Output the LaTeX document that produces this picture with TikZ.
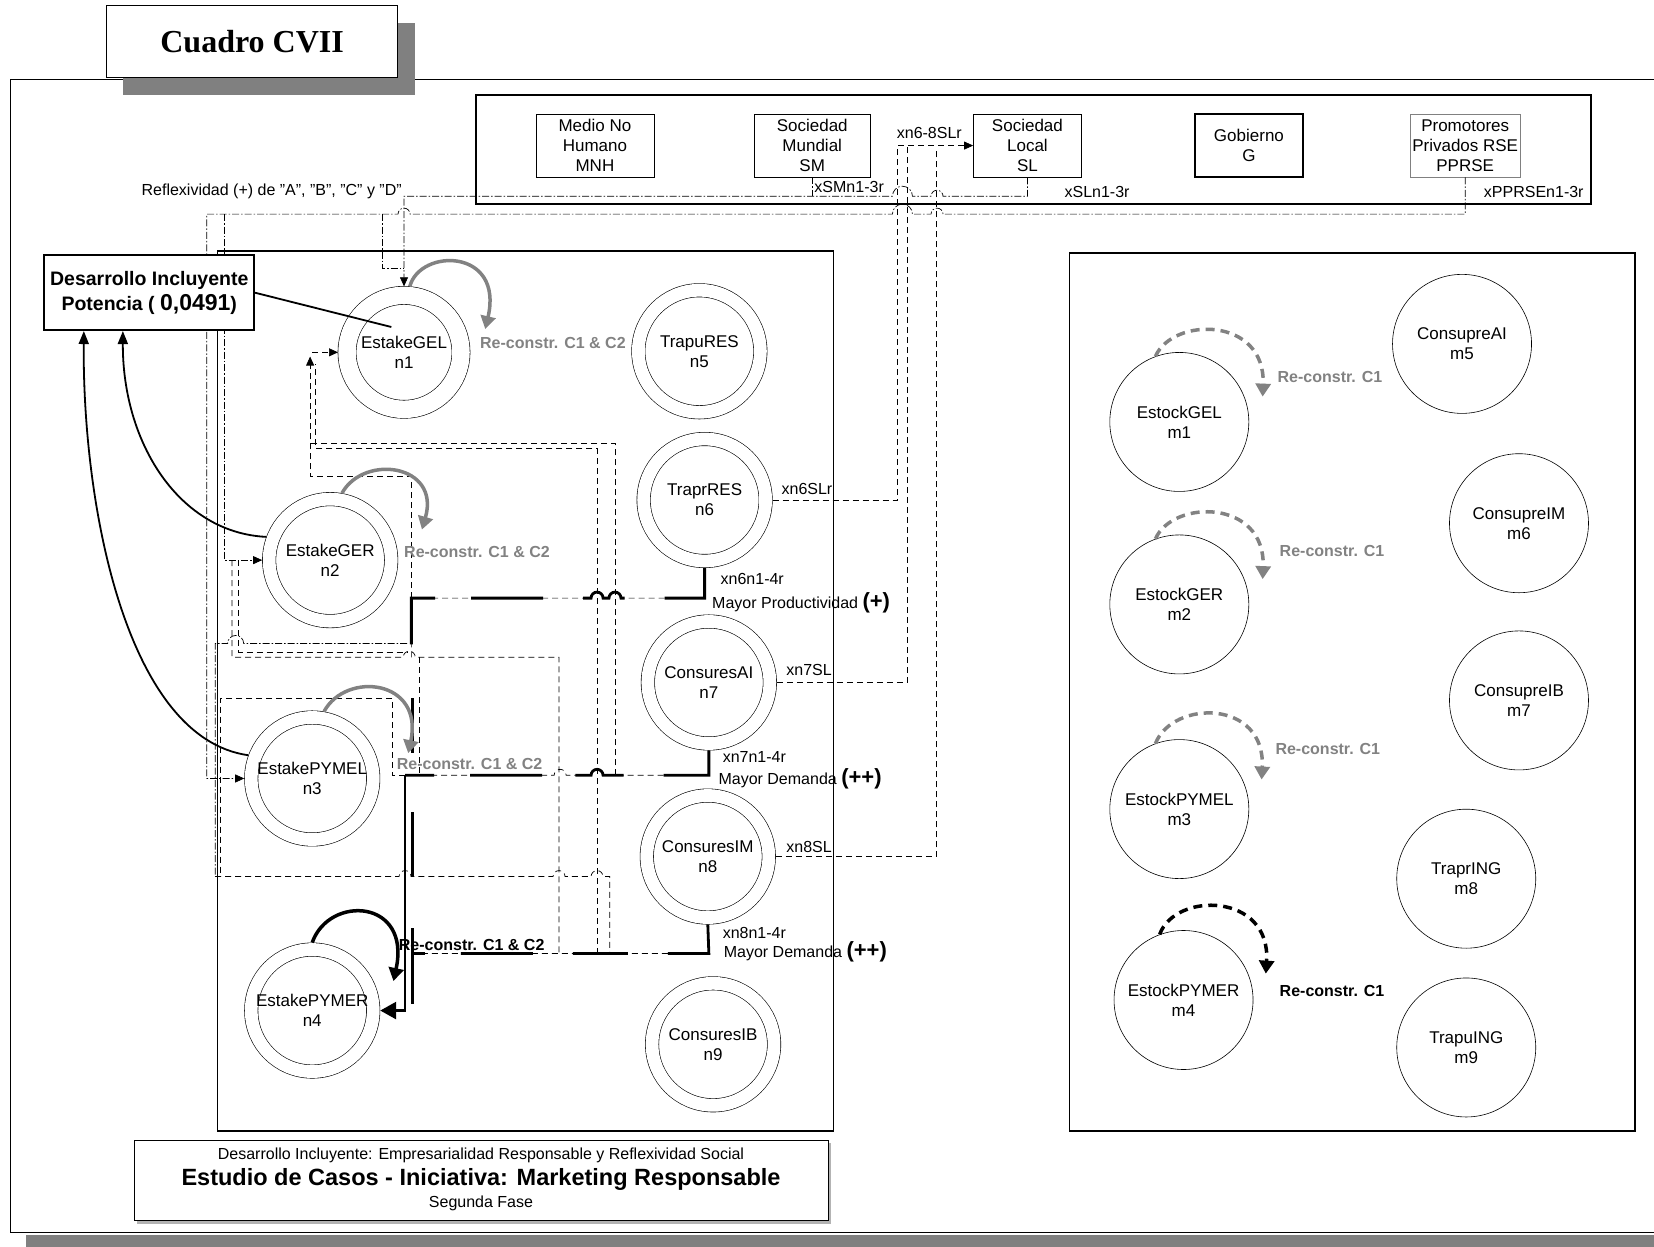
\documentclass[tikz,border=0pt]{standalone}
\usepackage{fontspec}
\setmainfont{Liberation Sans}
\newfontfamily\cuadrofont{Liberation Serif}
\usetikzlibrary{calc, arrows.meta}

\definecolor{shadowgray}{RGB}{128,128,128}
\definecolor{loopgray}{RGB}{130,130,130}

\tikzset{
  txt/.style={font=\fontsize{17}{20}\selectfont, inner sep=0pt, align=center},
  stake/.style={txt, draw, circle, double, double distance=12.8pt, line width=0.6pt, minimum size=122pt, outer sep=7pt},
  stock/.style={txt, draw, circle, line width=0.6pt, minimum size=139pt},
  agent/.style={txt, draw, line width=0.6pt, minimum height=63pt},
  reflex/.style={line width=0.7pt, dash pattern=on 7pt off 2pt on 1.5pt off 2pt},
  net/.style={line width=0.7pt, dash pattern=on 6pt off 4pt},
  feed/.style={net, postaction={draw, line width=2.8pt, dash pattern=on 70pt off 40pt on 55pt off 40pt on 72pt off 36pt}},
  headtip/.style={-{Triangle[length=9pt,width=8pt]}},
  reloop/.style={line width=3.5pt, loopgray, -{Triangle[length=13pt,width=15pt]}},
  mloop/.style={reloop, dash pattern=on 9pt off 6pt},
  relbl/.style={font=\bfseries\fontsize{16}{19}\selectfont, text=loopgray, anchor=west, inner sep=0pt},
  lbl/.style={font=\fontsize{16}{19}\selectfont, inner sep=0pt},
  devbox/.style={draw, fill=white, line width=1.6pt, minimum width=210pt, minimum height=75pt, align=center, inner sep=0pt, font=\bfseries\fontsize{19.5}{25}\selectfont},
  devarrow/.style={line width=1.8pt, -{Triangle[length=13pt,width=10pt]}}
}

\begin{document}
\begin{tikzpicture}[x=1.0548pt, y=-1.0548pt]
    \useasboundingbox (0,0) rectangle (1568,1182);
    \clip (0,0) rectangle (1568,1182);

    % Outer frame with its shadow
    \fill[shadowgray] (25,1171) rectangle (1600,1200);
    \draw[line width=1pt] (1600,75) -- (10,75) -- (10,1168) -- (1600,1168);

    % Title box
    \fill[shadowgray] (117,22) rectangle (393,90);
    \node[draw, fill=white, line width=1.2pt, minimum width=291pt, minimum height=72pt,
          font=\cuadrofont\bfseries\fontsize{32}{36}\selectfont] (cuadro) at (239,39) {Cuadro CVII};

    % Frames of the three groups
    \draw[line width=2pt] (451,90) rectangle (1508,193);
    \draw[line width=1.4pt] (206,238) rectangle (790,1072);
    \draw[line width=1.4pt] (1014,240) rectangle (1550,1072);

    % Agents
    \node[agent, minimum width=118pt] (MNH) at (564,138) {Medio No\\Humano\\MNH};
    \node[agent, minimum width=116pt] (SM) at (770,138) {Sociedad\\Mundial\\SM};
    \node[agent, minimum width=108pt] (SL) at (974,138) {Sociedad\\Local\\SL};
    \node[agent, minimum width=108pt, line width=2.6pt] (G) at (1184,138) {Gobierno\\G};
    \node[agent, minimum width=110pt, draw=gray] (PPRSE) at (1389,138) {Promotores\\Privados RSE\\PPRSE};

    % Stakeholders (double circles)
    \node[stake, minimum size=114pt, double distance=17.5pt, outer sep=9pt] (n1) at (383,334) {EstakeGEL\\n1};
    \foreach \nm/\px/\py/\lab in {n2/313/531/EstakeGER, n3/296/738/EstakePYMEL, n4/296/958/EstakePYMER,
        n5/663/333/TrapuRES, n6/668/474/TraprRES, n7/672/647/ConsuresAI, n8/671/812/ConsuresIM, n9/676/990/ConsuresIB}
        \node[stake] (\nm) at (\px,\py) {\lab\\\nm};

    % Stocks (single circles)
    \foreach \nm/\px/\py/\lab in {m1/1118/400/EstockGEL, m2/1118/573/EstockGER, m3/1118/767/EstockPYMEL,
        m4/1122/948/EstockPYMER, m5/1386/326/ConsupreAI, m6/1440/496/ConsupreIM, m7/1440/664/ConsupreIB,
        m8/1390/833/TraprING, m9/1390/993/TrapuING}
        \node[stock] (\nm) at (\px,\py) {\lab\\\nm};

    % Reflexivity lines (dash-dot)
    \draw[reflex] (SM.south) -- ++(0,18);
    \draw[reflex, headtip] (SL.south) |- (894,186) arc[start angle=0, end angle=180, radius=6pt]
        -- (865,186) arc[start angle=0, end angle=180, radius=10pt] -- (383,186) -- (n1.north);
    \draw[reflex, headtip] (PPRSE.south) |- (894,203) arc[start angle=0, end angle=180, radius=6pt]
        -- (865,203) arc[start angle=0, end angle=180, radius=10pt]
        -- (388.7,203) arc[start angle=0, end angle=180, radius=6pt] -- (196,203) -- (196,738) -- (n3.west);
    \draw[reflex, headtip] (213,203) -- (213,531) -- (n2.west);
    \draw[reflex] (362,203) -- (362,254) -- (383,254);
    \draw[reflex] (386,610) -- (231,610) arc[start angle=0, end angle=180, radius=8pt] -- (204,610) -- (204,831);

    % Links to Sociedad Local
    \draw[net, headtip] (n6.east) -| (851,138) -- (SL.west);
    \draw[net] (n7.east) -| (860,138);
    \draw[net] (n8.east) -| (888,142);

    % Feedback network (dashed)
    \draw[net, headtip] (390,567) -- (390,452) -- (294,452) -- (294,338);
    \draw[net, headtip] (296,334) -- (n1.west);
    \draw[net] (583,735) -- (583,420) -- (294,420);
    \draw[net] (566,904) -- (566,425) -- (299,425) -- (299,345);
    \draw[net] (220,531) -- (220,623) -- (382.3,623) arc[start angle=180, end angle=0, radius=6pt]
        -- (530,623) -- (530,904);
    \draw[net] (398,623) -- (398,735);
    \draw[net] (226,531) -- (226,618) -- (386,618);
    \draw[net] (204,831) -- (378.3,831) arc[start angle=180, end angle=0, radius=6pt]
        -- (524.3,831) arc[start angle=180, end angle=0, radius=6pt]
        -- (560.3,831) arc[start angle=180, end angle=0, radius=6pt] -- (578,831) -- (578,904);
    \draw[net] (384,735) -- (372,735) -- (372,662) -- (209,662) -- (209,831);

    % Productivity and demand lines
    \draw[feed] (n6.south) -- (668,567) -- (588.7,567) arc[start angle=0, end angle=180, radius=6pt]
        -- (571.7,567) arc[start angle=0, end angle=180, radius=6pt] -- (390,567) -- (390,626);
    \draw[feed] (n7.south) -- (672,735) -- (571.7,735) arc[start angle=0, end angle=180, radius=6pt]
        -- (536.7,735) arc[start angle=0, end angle=180, radius=6pt] -- (384,735);
    \draw[feed] (n8.south) -- (672,904) -- (390,904);
    \draw[line width=2.8pt, -{Triangle[length=16pt,width=17pt]}] (384,735) -- (384,958) -- (n4.east);
    \draw[line width=2.8pt] (391,662) -- (391,714) (391,770) -- (391,830) (391,880) -- (391,952);

    % Re-construction loops
    \draw[reloop] (n1.85) .. controls (398,235) and (478,235) .. (460,312);
    \draw[reloop] (n2.80) .. controls (345,430) and (418,440) .. (400,502);
    \draw[reloop] (n3.80) .. controls (328,636) and (402,644) .. (387,714);
    \draw[reloop, black] (n4.90) .. controls (312,848) and (390,852) .. (373,930);
    \draw[mloop] (m1.110) .. controls (1112,300) and (1200,300) .. (1197,376);
    \draw[mloop] (m2.110) .. controls (1112,473) and (1200,473) .. (1197,549);
    \draw[mloop] (m3.110) .. controls (1112,663) and (1200,663) .. (1196,739);
    \draw[mloop, black] (m4.110) .. controls (1114,845) and (1205,846) .. (1200,923);

    \node[relbl] (r1) at (455,325) {Re-constr. C1 \& C2};
    \node[relbl] (r2) at (383,523) {Re-constr. C1 \& C2};
    \node[relbl] (r3) at (376,724) {Re-constr. C1 \& C2};
    \node[relbl, text=black] (r4) at (378,896) {Re-constr. C1 \& C2};
    \node[relbl] (q1) at (1211,357) {Re-constr. C1};
    \node[relbl] (q2) at (1213,522) {Re-constr. C1};
    \node[relbl] (q3) at (1209,710) {Re-constr. C1};
    \node[relbl, text=black] (q4) at (1213,939) {Re-constr. C1};

    % Line labels
    \node[lbl, anchor=east] (refl) at (381,181) {Reflexividad (+) de "A", "B", "C" y "D"};
    \node[lbl] (xsm) at (805,177) {xSMn1-3r};
    \node[lbl] (xsl) at (1040,182) {xSLn1-3r};
    \node[lbl] (xpp) at (1454,182) {xPPRSEn1-3r};
    \node[lbl] (x68) at (881,126) {xn6-8SLr};
    \node[lbl] (x6sl) at (765,464) {xn6SLr};
    \node[lbl] (x7sl) at (767,635) {xn7SL};
    \node[lbl] (x8sl) at (767,803) {xn8SL};
    \node[lbl, anchor=west] (x6r) at (683,549) {xn6n1-4r};
    \node[lbl, anchor=west] (mp) at (675,571) {Mayor Productividad {\bfseries\fontsize{22}{22}\selectfont(+)}};
    \node[lbl, anchor=west] (x7r) at (685,718) {xn7n1-4r};
    \node[lbl, anchor=west] (md7) at (681,738) {Mayor Demanda {\bfseries\fontsize{22}{22}\selectfont(++)}};
    \node[lbl, anchor=west] (x8r) at (685,884) {xn8n1-4r};
    \node[lbl, anchor=west] (md8) at (686,902) {Mayor Demanda {\bfseries\fontsize{22}{22}\selectfont(++)}};

    % Desarrollo Incluyente box and its links
    \node[devbox] (des) at (141.5,277.5) {Desarrollo Incluyente\\Potencia ( {\fontsize{23}{25}\selectfont 0,0491})};
    \draw[line width=1.8pt] (des.east) -- ($(n1.center)+(-12,-24)$);
    \draw[devarrow] (n2.160) .. controls (170,505) and (116,420) .. ($(des.south)+(-25,0)$);
    \draw[devarrow] (n3.160) .. controls (120,700) and (78,480) .. ($(des.south)+(-62,0)$);

    % Caption
    \fill[shadowgray!60] (130,1084) rectangle (788,1160);
    \node[draw, fill=white, line width=0.6pt, minimum width=694pt, minimum height=80pt] (capbox) at (456,1119) {};
    \node[font=\fontsize{16}{18}\selectfont] (cap1) at (456,1095) {Desarrollo Incluyente: Empresarialidad Responsable y Reflexividad Social};
    \node[font=\bfseries\fontsize{23.5}{27}\selectfont] (cap2) at (456,1118) {Estudio de Casos - Iniciativa: Marketing Responsable};
    \node[font=\fontsize{16}{18}\selectfont] (cap3) at (456,1141) {Segunda Fase};

\end{tikzpicture}
\end{document}
